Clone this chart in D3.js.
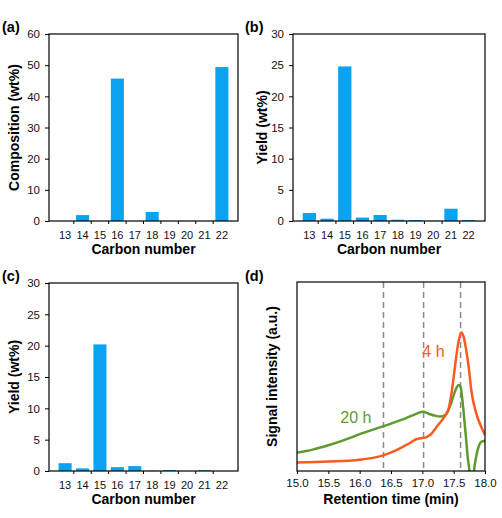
<!DOCTYPE html>
<html><head><meta charset="utf-8">
<script src="https://cdn.jsdelivr.net/npm/d3@7/dist/d3.min.js"></script>
<style>
body{margin:0;background:#fff;}
svg{display:block;font-family:"Liberation Sans",Arial,sans-serif;}
</style></head>
<body><svg id="c" width="502" height="518"></svg>
<script>
// ---- data ----
const carbonNumbers = ["13","14","15","16","17","18","19","20","21","22"];
const compositionA = [0, 1.9, 0, 45.7, 0, 2.9, 0, 0, 0, 49.4];
const yieldB = [1.28, 0.37, 24.8, 0.55, 0.96, 0.2, 0.15, 0.03, 1.97, 0.15];
const yieldC = [1.25, 0.42, 20.2, 0.62, 0.78, 0.05, 0.15, 0, 0.12, 0];
const ticksA = [0, 10, 20, 30, 40, 50, 60];
const ticksBC = [0, 5, 10, 15, 20, 25, 30];
const timeTicks = [15.0, 15.5, 16.0, 16.5, 17.0, 17.5, 18.0];
const dashedTimes = [16.38, 17.02, 17.61];
const time4h = [15.0,15.5,16.0,16.25,16.4,16.55,16.7,16.8,16.9,17.0,17.06,17.12,17.25,17.36,17.42,17.47,17.52,17.57,17.62,17.66,17.7,17.74,17.78,17.86,17.94,18.0];
const signal4h = [0.045,0.05,0.06,0.072,0.085,0.105,0.13,0.148,0.168,0.175,0.178,0.19,0.243,0.29,0.33,0.42,0.55,0.67,0.733,0.71,0.64,0.55,0.43,0.305,0.234,0.19];
const time20h = [15.0,15.25,15.5,15.75,16.0,16.25,16.5,16.75,16.9,17.01,17.1,17.2,17.3,17.38,17.45,17.52,17.58,17.61,17.65,17.69,17.73,17.78,17.8,17.84,17.89,17.94,18.0];
const signal20h = [0.097,0.113,0.136,0.163,0.195,0.223,0.251,0.281,0.302,0.313,0.303,0.293,0.288,0.3,0.35,0.42,0.455,0.446,0.34,0.2,0.057,-0.04,-0.05,0.04,0.12,0.154,0.16];

const BAR = "#0aa3f2", ORANGE = "#fa5a22", GREEN = "#5e9a2e";
const svg = d3.select("#c");

function barPanel(o){
  const {L,T,R,B,vals,ticks,ymax,ytitle,label,lx,ly,titleOff} = o;
  const g = svg.append("g");
  const x = d3.scaleBand().domain(carbonNumbers).range([L,R]).paddingInner(0.25).paddingOuter(0.55);
  const y = d3.scaleLinear().domain([0,ymax]).range([B,T]);
  g.selectAll("rect.bar").data(vals).enter().append("rect")
    .attr("x",(d,i)=>x(carbonNumbers[i])).attr("width",x.bandwidth())
    .attr("y",d=>y(d)).attr("height",d=>B-y(d)).attr("fill",BAR);
  g.append("rect").attr("x",L).attr("y",T).attr("width",R-L).attr("height",B-T)
    .attr("fill","none").attr("stroke","#000").attr("stroke-width",1.2);
  const ya = g.append("g").attr("transform",`translate(${L},0)`)
    .call(d3.axisLeft(y).tickValues(ticks).tickSize(4).tickPadding(5).tickFormat(d3.format("d")));
  ya.select(".domain").remove();
  ya.selectAll("line").attr("stroke","#000");
  ya.selectAll("text").attr("font-size",11.5).attr("fill","#111").attr("font-family","Liberation Sans, Arial");
  const xa = g.append("g").attr("transform",`translate(0,${B})`)
    .call(d3.axisBottom(x).tickSize(0).tickPadding(10));
  xa.select(".domain").remove();
  xa.selectAll("text").attr("font-size",11).attr("fill","#111").attr("font-family","Liberation Sans, Arial");
  const step = x.step();
  const bounds = carbonNumbers.slice(1).map(c=>x(c)+x.bandwidth()/2 - step/2);
  g.selectAll("line.xt").data(bounds).enter().append("line")
    .attr("x1",d=>d).attr("x2",d=>d).attr("y1",B).attr("y2",B+3).attr("stroke","#000");
  g.append("text").attr("x",(L+R)/2).attr("y",B+33).attr("text-anchor","middle")
    .attr("font-size",14).attr("font-weight","bold").text("Carbon number");
  g.append("text").attr("transform",`translate(${L-titleOff},${(T+B)/2}) rotate(-90)`)
    .attr("text-anchor","middle").attr("dy","0.35em").attr("font-size",14).attr("font-weight","bold").text(ytitle);
  svg.append("text").attr("x",lx).attr("y",ly).attr("font-size",14.5).attr("font-weight","bold").text(label);
}

barPanel({L:49,T:34,R:238,B:221,vals:compositionA,ticks:ticksA,ymax:60,ytitle:"Composition (wt%)",label:"(a)",lx:2,ly:32,titleOff:35});
barPanel({L:293,T:34,R:485,B:221,vals:yieldB,ticks:ticksBC,ymax:30,ytitle:"Yield (wt%)",label:"(b)",lx:245,ly:32,titleOff:31});
barPanel({L:49,T:283,R:238,B:471,vals:yieldC,ticks:ticksBC,ymax:30,ytitle:"Yield (wt%)",label:"(c)",lx:2,ly:281,titleOff:35});

(function(){
  const L=297,T=282,R=485,B=471;
  const g = svg.append("g");
  const x = d3.scaleLinear().domain([15,18]).range([L,R]);
  const y = d3.scaleLinear().domain([0,1]).range([B,T]);
  svg.append("clipPath").attr("id","clipd").append("rect").attr("x",L).attr("y",T).attr("width",R-L).attr("height",B-T);
  g.selectAll("line.dash").data(dashedTimes).enter().append("line")
    .attr("x1",d=>x(d)).attr("x2",d=>x(d)).attr("y1",T).attr("y2",B)
    .attr("stroke","#8a8a8a").attr("stroke-width",1.5).attr("stroke-dasharray","6,4");
  const line = d3.line().x(d=>x(d[0])).y(d=>y(d[1])).curve(d3.curveMonotoneX);
  const lc = g.append("g").attr("clip-path","url(#clipd)");
  lc.append("path").datum(time20h.map((t,i)=>[t,signal20h[i]])).attr("d",line)
    .attr("fill","none").attr("stroke",GREEN).attr("stroke-width",2.5);
  lc.append("path").datum(time4h.map((t,i)=>[t,signal4h[i]])).attr("d",line)
    .attr("fill","none").attr("stroke",ORANGE).attr("stroke-width",2.5);
  g.append("rect").attr("x",L).attr("y",T).attr("width",R-L).attr("height",B-T)
    .attr("fill","none").attr("stroke","#000").attr("stroke-width",1.2);
  const xa = g.append("g").attr("transform",`translate(0,${B})`)
    .call(d3.axisBottom(x).tickValues(timeTicks).tickSize(3).tickPadding(5).tickFormat(d3.format(".1f")));
  xa.select(".domain").remove();
  xa.selectAll("line").attr("stroke","#000");
  xa.selectAll("text").attr("font-size",11.5).attr("fill","#111").attr("font-family","Liberation Sans, Arial");
  g.append("text").attr("x",(L+R)/2).attr("y",B+33).attr("text-anchor","middle")
    .attr("font-size",14).attr("font-weight","bold").text("Retention time (min)");
  g.append("text").attr("transform",`translate(${L-25},${(T+B)/2}) rotate(-90)`)
    .attr("text-anchor","middle").attr("dy","0.35em").attr("font-size",14).attr("font-weight","bold").text("Signal intensity (a.u.)");
  g.append("text").attr("x",x(17.0)).attr("y",357).attr("font-size",16).attr("fill",ORANGE).text("4 h");
  g.append("text").attr("x",x(15.69)).attr("y",423).attr("font-size",16).attr("fill",GREEN).text("20 h");
  svg.append("text").attr("x",245).attr("y",281).attr("font-size",14.5).attr("font-weight","bold").text("(d)");
})();
</script>
</body></html>
